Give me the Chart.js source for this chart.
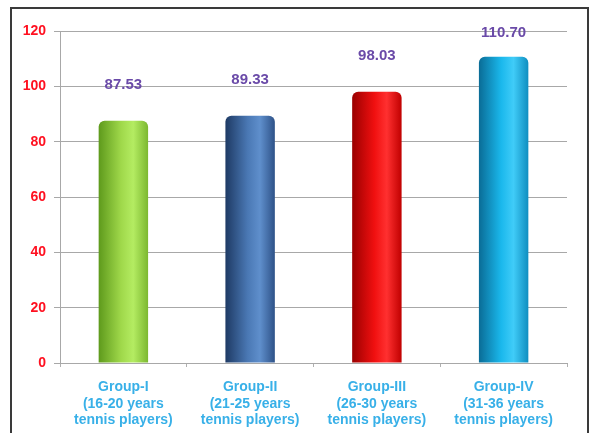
<!DOCTYPE html>
<html><head><meta charset="utf-8">
<script src="https://cdn.jsdelivr.net/npm/chart.js@4/dist/chart.umd.min.js"></script>
<style>html,body{margin:0;padding:0;background:#fff;}#wrap{position:relative;width:590px;height:433px;}</style>
</head><body><div id="wrap"><canvas id="c" width="590" height="433"></canvas></div>
<script>
const categories = [
  ["Group-I","(16-20 years","tennis players)"],
  ["Group-II","(21-25 years","tennis players)"],
  ["Group-III","(26-30 years","tennis players)"],
  ["Group-IV","(31-36 years","tennis players)"]
];
const values = [87.53, 89.33, 98.03, 110.70];
const valueLabels = ["87.53", "89.33", "98.03", "110.70"];
const yTicks = [0, 20, 40, 60, 80, 100, 120];

const barColors = [
  ["#5e9a1c", "#9fd84a", "#b4ec62", "#7cb830"],
  ["#1e3a64", "#4a78b4", "#5f8fcc", "#2e5288"],
  ["#9a0000", "#f01010", "#ff3030", "#c00000"],
  ["#0a6c96", "#1ab8ec", "#40ccf8", "#0f8ec0"]
];
const BAR_PCT = 0.39;

function gradFor(ctx, i) {
  const chart = ctx.chart;
  const xs = chart.scales && chart.scales.x;
  const c = barColors[i];
  if (!xs || !chart.chartArea) return c[1];
  const cx = xs.getPixelForValue(i);
  const w = (chart.chartArea.width / categories.length) * BAR_PCT;
  if (!isFinite(cx) || !isFinite(w) || w <= 0) return c[1];
  const g = chart.ctx.createLinearGradient(cx - w / 2, 0, cx + w / 2, 0);
  g.addColorStop(0, c[0]);
  g.addColorStop(0.45, c[1]);
  g.addColorStop(0.7, c[2]);
  g.addColorStop(1, c[3]);
  return g;
}

const framePlugin = {
  id: 'frame',
  beforeDraw(chart) {
    const c = chart.ctx;
    c.save();
    c.fillStyle = '#fff';
    c.fillRect(0, 0, chart.width, chart.height);
    c.strokeStyle = '#3a3a3a';
    c.lineWidth = 2;
    c.strokeRect(11, 8, 577, 440);
    c.restore();
  },
  afterDatasetsDraw(chart) {
    const c = chart.ctx;
    const meta = chart.getDatasetMeta(0);
    c.save();
    c.font = 'bold 15px Arial, "Liberation Sans", sans-serif';
    c.fillStyle = '#6a4aa8';
    c.textAlign = 'center';
    c.textBaseline = 'middle';
    meta.data.forEach((el, i) => {
      let y = el.y - 36;
      if (y < chart.chartArea.top + 2) y = chart.chartArea.top + 2;
      c.fillText(valueLabels[i], el.x, y);
    });
    c.restore();
  }
};

new Chart(document.getElementById('c'), {
  type: 'bar',
  data: {
    labels: categories,
    datasets: [{
      data: values,
      backgroundColor: (ctx) => gradFor(ctx, ctx.dataIndex),
      borderWidth: 0,
      borderRadius: {topLeft: 6, topRight: 6, bottomLeft: 0, bottomRight: 0},
      borderSkipped: 'bottom',
      barPercentage: BAR_PCT,
      categoryPercentage: 1.0
    }]
  },
  options: {
    responsive: false,
    animation: false,
    devicePixelRatio: 1,
    layout: { padding: { top: 31, right: 23, left: 0, bottom: 0 } },
    plugins: { legend: { display: false }, tooltip: { enabled: false } },
    scales: {
      x: {
        afterFit(s) { s.height = 70; },
        grid: { display: true, drawOnChartArea: false, color: '#b0b0b0', tickLength: 4, offset: true },
        border: { color: '#a8a8a8', width: 1 },
        ticks: {
          color: '#38b0e8',
          font: { family: 'Arial, "Liberation Sans", sans-serif', size: 14, weight: 'bold', lineHeight: 1.18 },
          padding: 12,
          maxRotation: 0,
          autoSkip: false
        }
      },
      y: {
        min: 0, max: 120,
        afterFit(s) { s.width = 60; },
        afterBuildTicks(s) { s.ticks = yTicks.map(v => ({ value: v })); },
        grid: { color: '#a8a8a8', tickLength: 6, lineWidth: 1 },
        border: { color: '#a8a8a8', width: 1 },
        ticks: {
          color: '#ff1020',
          font: { family: 'Arial, "Liberation Sans", sans-serif', size: 14, weight: 'bold' },
          padding: 8
        }
      }
    }
  },
  plugins: [framePlugin]
});
</script>
</body></html>
